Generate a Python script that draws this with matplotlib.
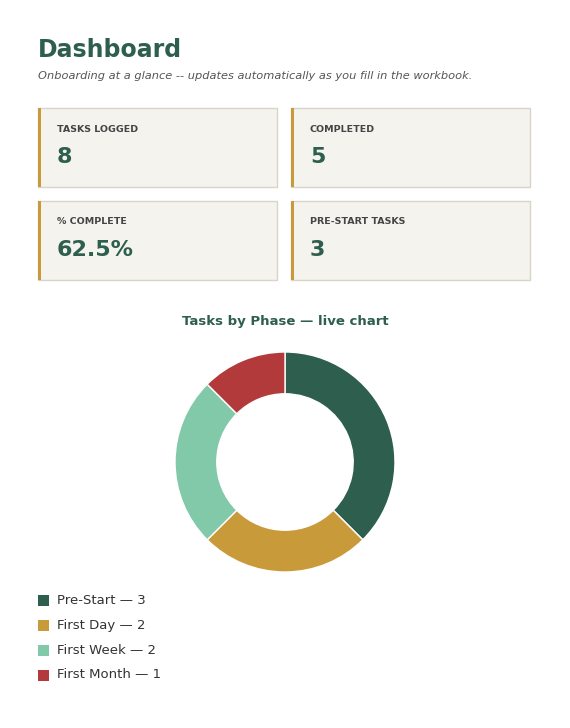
import matplotlib
matplotlib.use("Agg")
import matplotlib.pyplot as plt
from matplotlib.patches import Rectangle

phases = ["Pre-Start", "First Day", "First Week", "First Month"]
counts = [3, 2, 2, 1]
colors = ["#2e5e4e", "#c99a3a", "#82c9aa", "#b23a3a"]
card_labels = ["TASKS LOGGED", "COMPLETED", "% COMPLETE", "PRE-START TASKS"]
card_values = ["8", "5", "62.5%", "3"]

W, H = 570, 728
fig = plt.figure(figsize=(W/100, H/100), dpi=100)
fig.patch.set_facecolor("white")
bg = fig.add_axes([0, 0, 1, 1])
bg.set_xlim(0, W); bg.set_ylim(H, 0); bg.axis("off")

green = "#2e5e4e"
bg.text(38, 50, "Dashboard", fontsize=17, fontweight="bold", color=green, va="center")
bg.text(38, 76, "Onboarding at a glance -- updates automatically as you fill in the workbook.",
        fontsize=8.2, style="italic", color="#555555", va="center")

pos = [(38, 108), (291, 108), (38, 201), (291, 201)]
for (x, y), lab, val in zip(pos, card_labels, card_values):
    bg.add_patch(Rectangle((x, y), 239, 79, facecolor="#f5f3ee", edgecolor="#d8d4ca", lw=1))
    bg.add_patch(Rectangle((x, y), 3, 79, facecolor="#c99a3a", edgecolor="none"))
    bg.text(x + 19, y + 21, lab, fontsize=6.8, fontweight="bold", color="#444444", va="center")
    bg.text(x + 19, y + 49, val, fontsize=16, fontweight="bold", color=green, va="center")

bg.text(285, 321, "Tasks by Phase \u2014 live chart", fontsize=9.5, fontweight="bold",
        color=green, ha="center", va="center")

cx, cy, r = 285, 462, 110
pax = fig.add_axes([(cx - r)/W, (H - cy - r)/H, 2*r/W, 2*r/H])
pax.pie(counts, colors=colors, startangle=90, counterclock=False,
        wedgeprops=dict(width=0.38, edgecolor="white", linewidth=1))
pax.set_xlim(-1, 1); pax.set_ylim(-1, 1)

for i, (p, c, col) in enumerate(zip(phases, counts, colors)):
    y = 600 + 25*i
    bg.add_patch(Rectangle((38, y - 5.5), 11, 11, facecolor=col, edgecolor="none"))
    bg.text(57, y, f"{p} \u2014 {c}", fontsize=9.5, color="#333333", va="center")

fig.savefig("out.png", dpi=100)
